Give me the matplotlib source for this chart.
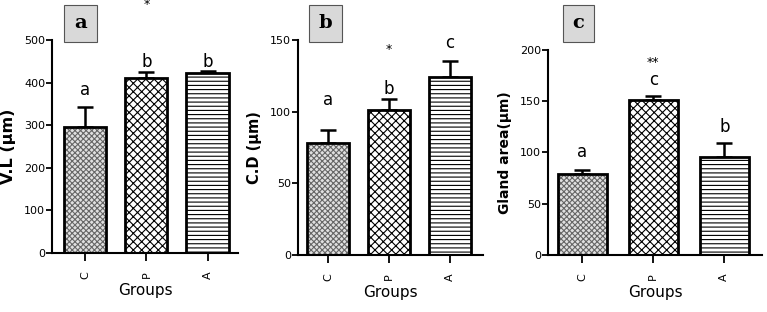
import numpy as np
import matplotlib.pyplot as plt

# Dados
groups = ['C', 'P', 'A']
vl_mean = [295, 410, 423]
vl_err = [48, 15, 5]
cd_mean = [78, 101, 124]
cd_err = [9, 8, 11]
gland_mean = [79, 151, 96]
gland_err = [4, 4, 13]

vl_letters = ['a', 'b', 'b']
cd_letters = ['a', 'b', 'c']
gland_letters = ['a', 'c', 'b']

hatches = ['xxxxxx', 'xxxx', '----']
hatch_cor = ['#666666', 'black', 'black']
faces = ['#e0e0e0', 'white', 'white']

plt.rcParams['font.family'] = ['Liberation Sans Narrow', 'DejaVu Sans']
plt.rcParams['hatch.linewidth'] = 0.8

fig = plt.figure(figsize=(7.67, 3.12), dpi=100)

paineis = [
    dict(rect=[0.068, 0.189, 0.2425, 0.683], vals=vl_mean, err=vl_err, letras=vl_letters,
         ylim=500, step=100, ylabel='V.L (µm)', ysize=11.5, xlim=(-0.54, 2.5),
         ltr_y=[383, 448, 448], star=('*', 1, 582), tag='a', tag_x=0.105),
    dict(rect=[0.3885, 0.183, 0.241, 0.689], vals=cd_mean, err=cd_err, letras=cd_letters,
         ylim=150, step=50, ylabel='C.D (µm)', ysize=10.5, xlim=(-0.5, 2.54),
         ltr_y=[108, 116, 148], star=('*', 1, 143), tag='b', tag_x=0.424),
    dict(rect=[0.7145, 0.183, 0.279, 0.657], vals=gland_mean, err=gland_err, letras=gland_letters,
         ylim=200, step=50, ylabel='Gland area(µm)', ysize=10, xlim=(-0.48, 2.53),
         ltr_y=[100, 171, 125], star=('**', 1, 188), tag='c', tag_x=0.754),
]

x = np.arange(len(groups))
for p in paineis:
    ax = fig.add_axes(p['rect'])
    # preenchimento com hachura, depois o contorno por cima
    ax.bar(x, p['vals'], width=0.69, color=faces, edgecolor=hatch_cor, hatch=hatches,
           linewidth=0, zorder=2)
    ax.bar(x, p['vals'], width=0.69, color='none', edgecolor='black', linewidth=2, zorder=3)
    ax.errorbar(x, p['vals'], yerr=[np.zeros(3), p['err']], fmt='none', ecolor='black',
                elinewidth=1.8, capsize=6, capthick=1.8, zorder=1)
    for xi, lt, ly in zip(x, p['letras'], p['ltr_y']):
        ax.text(xi, ly, lt, ha='center', va='center', fontsize=12, family='DejaVu Sans')
    s, sx, sy = p['star']
    ax.text(sx, sy, s, ha='center', va='center', fontsize=9, family='DejaVu Sans',
            clip_on=False)
    ax.set_xlim(*p['xlim'])
    ax.set_ylim(0, p['ylim'])
    ax.set_yticks(np.arange(0, p['ylim'] + 1, p['step']))
    ax.set_xticks(x)
    ax.set_xticklabels(groups, rotation=90, fontsize=8)
    ax.tick_params(axis='y', labelsize=8, width=1.3, length=4, pad=1)
    ax.tick_params(axis='x', width=1.3, length=6, pad=7)
    for sp in ['top', 'right']:
        ax.spines[sp].set_visible(False)
    for sp in ['left', 'bottom']:
        ax.spines[sp].set_linewidth(1.5)
    ax.set_ylabel(p['ylabel'], fontsize=p['ysize'], fontweight='bold', family='DejaVu Sans',
                  labelpad=6)
    ax.set_xlabel('Groups', fontsize=11, labelpad=3)
    fig.text(p['tag_x'], 0.925, p['tag'], ha='center', va='center', fontsize=14,
             fontweight='bold', family='DejaVu Serif',
             bbox=dict(boxstyle='square,pad=0.5', facecolor='#d9d9d9', edgecolor='#555555',
                       linewidth=0.8))

plt.savefig('out.png', dpi=100)
